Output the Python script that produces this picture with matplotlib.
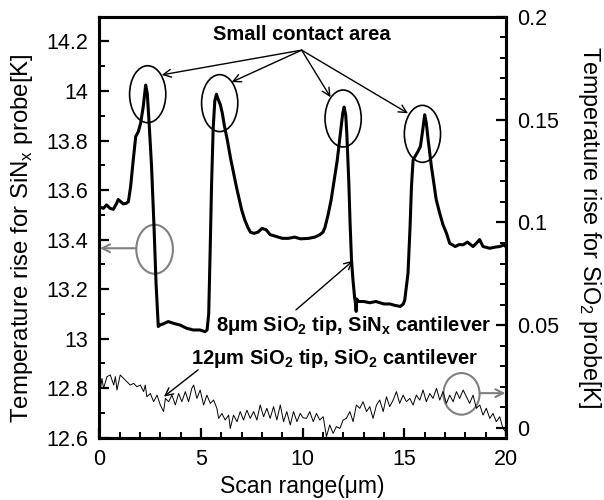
import numpy as np
import matplotlib
matplotlib.use('Agg')
from matplotlib import pyplot as plt
from matplotlib.patches import Ellipse
from matplotlib.ticker import MultipleLocator

plt.rcParams['font.family'] = 'Liberation Sans'
plt.rcParams['mathtext.fontset'] = 'custom'
plt.rcParams['mathtext.rm'] = 'Liberation Sans'
plt.rcParams['mathtext.bf'] = 'Liberation Sans:bold'

### SiNx probe (left axis) ###
sinx_x = np.array([0.00, 0.20, 0.36, 0.53, 0.69, 0.85, 0.93, 1.05, 1.18, 1.31, 1.43, 1.54, 1.67, 1.79,
                   1.92, 2.03, 2.16, 2.28, 2.36, 2.46, 2.57, 2.69, 2.79, 2.90, 2.98, 3.15, 3.39, 3.64,
                   3.97, 4.29, 4.62, 4.95, 5.20, 5.30, 5.38, 5.45, 5.52, 5.60, 5.68, 5.76, 5.85, 5.95,
                   6.05, 6.15, 6.30, 6.45, 6.60, 6.75, 6.86, 7.00, 7.15, 7.30, 7.43, 7.60, 7.80, 8.00,
                   8.20, 8.40, 8.60, 8.80, 9.00, 9.30, 9.60, 9.90, 10.30, 10.60, 10.85, 11.00, 11.10,
                   11.25, 11.40, 11.55, 11.70, 11.80, 11.90, 11.97, 12.04, 12.12, 12.17, 12.22, 12.27,
                   12.33, 12.40, 12.47, 12.55, 12.60, 12.63, 12.66, 12.75, 13.00, 13.30, 13.60, 14.00,
                   14.30, 14.50, 14.80, 14.95, 15.02, 15.18, 15.28, 15.35, 15.43, 15.56, 15.67, 15.79,
                   15.90, 16.00, 16.08, 16.17, 16.33, 16.57, 16.74, 16.90, 17.07, 17.23, 17.50, 17.70,
                   17.89, 18.10, 18.38, 18.62, 18.70, 18.87, 19.20, 19.50, 19.69, 19.93, 20.00])
sinx_t = np.array([13.533, 13.526, 13.540, 13.526, 13.522, 13.546, 13.562, 13.553, 13.544, 13.546,
                   13.553, 13.614, 13.722, 13.816, 13.836, 13.869, 13.936, 14.024, 13.990, 13.855,
                   13.695, 13.453, 13.224, 13.049, 13.055, 13.060, 13.069, 13.062, 13.055, 13.042,
                   13.035, 13.035, 13.028, 13.035, 13.100, 13.350, 13.620, 13.850, 13.960, 13.987,
                   13.965, 13.945, 13.910, 13.860, 13.800, 13.730, 13.670, 13.610, 13.570, 13.520,
                   13.480, 13.450, 13.430, 13.425, 13.430, 13.445, 13.440, 13.420, 13.415, 13.410,
                   13.405, 13.405, 13.410, 13.403, 13.405, 13.410, 13.420, 13.430, 13.450, 13.500,
                   13.560, 13.640, 13.720, 13.790, 13.860, 13.910, 13.935, 13.900, 13.830, 13.730,
                   13.630, 13.470, 13.320, 13.240, 13.170, 13.140, 13.110, 13.160, 13.150, 13.150,
                   13.145, 13.150, 13.140, 13.140, 13.135, 13.130, 13.140, 13.156, 13.264, 13.450,
                   13.614, 13.722, 13.740, 13.756, 13.776, 13.840, 13.904, 13.870, 13.803, 13.695,
                   13.560, 13.506, 13.460, 13.426, 13.385, 13.372, 13.380, 13.379, 13.390, 13.372,
                   13.392, 13.400, 13.372, 13.365, 13.370, 13.372, 13.379, 13.370])

### SiO2 probe (right axis) ###
sio2_x = np.array([0.00, 0.05, 0.13, 0.21, 0.38, 0.54, 0.71, 0.79, 0.87, 1.03, 1.20, 1.36, 1.52, 1.69,
                   1.85, 2.02, 2.18, 2.26, 2.34, 2.51, 2.67, 2.84, 3.00, 3.16, 3.25, 3.41, 3.57, 3.74,
                   3.90, 4.06, 4.23, 4.39, 4.55, 4.64, 4.80, 4.96, 5.13, 5.29, 5.46, 5.62, 5.78, 5.87,
                   6.03, 6.19, 6.36, 6.44, 6.60, 6.77, 6.93, 7.09, 7.26, 7.42, 7.59, 7.75, 7.91, 8.08,
                   8.24, 8.40, 8.57, 8.73, 8.90, 9.06, 9.22, 9.39, 9.55, 9.72, 9.88, 10.02, 10.19,
                   10.35, 10.52, 10.68, 10.84, 11.01, 11.17, 11.33, 11.50, 11.66, 11.83, 11.99, 12.15,
                   12.32, 12.48, 12.64, 12.81, 12.97, 13.14, 13.30, 13.46, 13.63, 13.79, 13.96, 14.12,
                   14.28, 14.45, 14.61, 14.77, 14.94, 15.10, 15.27, 15.43, 15.59, 15.76, 15.92, 16.08,
                   16.25, 16.41, 16.58, 16.74, 16.90, 17.07, 17.23, 17.40, 17.56, 17.72, 17.89, 18.05,
                   18.21, 18.38, 18.54, 18.71, 18.87, 19.03, 19.20, 19.36, 19.52, 19.69, 19.85, 19.98])
sio2_t = np.array([0.0195, 0.0185, 0.0241, 0.0193, 0.0250, 0.0258, 0.0209, 0.0250, 0.0185, 0.0258,
                   0.0241, 0.0225, 0.0209, 0.0217, 0.0201, 0.0209, 0.0177, 0.0209, 0.0152, 0.0168,
                   0.0128, 0.0160, 0.0112, 0.0080, 0.0144, 0.0128, 0.0160, 0.0112, 0.0168, 0.0128,
                   0.0177, 0.0128, 0.0193, 0.0209, 0.0144, 0.0185, 0.0112, 0.0160, 0.0120, 0.0136,
                   0.0096, 0.0047, 0.0071, 0.0039, 0.0063, -0.0002, 0.0063, 0.0031, 0.0080, 0.0039,
                   0.0087, 0.0047, 0.0080, 0.0039, 0.0112, 0.0055, 0.0096, 0.0047, 0.0104, 0.0039,
                   0.0112, 0.0031, 0.0080, 0.0015, 0.0080, 0.0031, 0.0071, 0.0050, 0.0047, 0.0080,
                   0.0031, 0.0071, 0.0039, 0.0055, -0.0042, 0.0015, -0.0026, 0.0007, -0.0002, 0.0039,
                   0.0047, 0.0080, 0.0031, 0.0112, 0.0096, 0.0128, 0.0080, 0.0104, 0.0047, 0.0112,
                   0.0136, 0.0080, 0.0152, 0.0104, 0.0136, 0.0177, 0.0120, 0.0160, 0.0128, 0.0144,
                   0.0112, 0.0160, 0.0136, 0.0185, 0.0128, 0.0168, 0.0144, 0.0193, 0.0136, 0.0177,
                   0.0120, 0.0160, 0.0128, 0.0177, 0.0144, 0.0185, 0.0152, 0.0120, 0.0160, 0.0096,
                   0.0112, 0.0063, 0.0096, 0.0047, 0.0071, 0.0031, 0.0055, -0.0002, -0.0018])

left_ticks = [12.6, 12.8, 13.0, 13.2, 13.4, 13.6, 13.8, 14.0, 14.2]
left_labels = ['12.6', '12.8', '13', '13.2', '13.4', '13.6', '13.8', '14', '14.2']
right_ticks = [0, 0.05, 0.1, 0.15, 0.2]
right_labels = ['0', '0.05', '0.1', '0.15', '0.2']

# peaks marked with black circles: centre x, centre y
peak_circles = [(2.38, 13.987), (5.92, 13.951), (11.99, 13.889), (15.89, 13.827)]
# arrow targets from the "Small contact area" label
peak_arrow_tips = [(3.07, 14.065), (6.51, 14.036), (11.37, 13.975), (15.18, 13.91)]

mu = '\u03bc'

fig = plt.figure(figsize=(6.04, 5.0), dpi=100)
ax1 = fig.add_axes([0.1644, 0.1246, 0.6734, 0.842])
ax2 = ax1.twinx()

ax1.plot(sinx_x, sinx_t, color='black', lw=2.2)
ax2.plot(sio2_x, sio2_t, color='black', lw=0.7)

ax1.set_xlim(0, 20)
ax1.set_ylim(12.6, 14.3)
ax2.set_ylim(-0.0047, 0.2)

ax1.set_xticks([0, 5, 10, 15, 20])
ax1.xaxis.set_minor_locator(MultipleLocator(1))
ax1.set_yticks(left_ticks)
ax1.set_yticklabels(left_labels)
ax1.yaxis.set_minor_locator(MultipleLocator(0.1))
ax2.set_yticks(right_ticks)
ax2.set_yticklabels(right_labels)
ax2.yaxis.set_minor_locator(MultipleLocator(0.01))

for ax in (ax1, ax2):
    ax.tick_params(which='major', direction='in', length=7, width=1.6, labelsize=15.5, pad=8)
    ax.tick_params(which='minor', direction='in', length=4, width=1.4)
    for sp in ax.spines.values():
        sp.set_linewidth(2.2)

fig.text(302.7 / 604, 1 - 486 / 500, 'Scan range(' + mu + 'm)', ha='center', va='center', fontsize=16.5)
fig.text(21.7 / 604, 1 - 238 / 500, r'Temperature rise for SiN$_\mathregular{x}$ probe[K]',
         rotation=90, ha='center', va='center', fontsize=17.3)
fig.text(590 / 604, 1 - 227 / 500, r'Temperature rise for SiO$_\mathregular{2}$ probe[K]',
         rotation=270, ha='center', va='center', fontsize=16.8)

# annotations
ax1.text(9.95, 14.227, 'Small contact area', ha='center', va='center', fontsize=14.5, fontweight='bold')
for tip in peak_arrow_tips:
    ax1.annotate('', xy=tip, xytext=(9.95, 14.165),
                 arrowprops=dict(arrowstyle='->', color='black', lw=1.0, shrinkA=0, shrinkB=0,
                                 mutation_scale=14))
for cx, cy in peak_circles:
    ax1.add_patch(Ellipse((cx, cy), 1.78, 0.23, fill=False, ec='black', lw=1.2))

ax1.text(12.51, 13.055, '8' + mu + r'm SiO$_\mathbf{2}$ tip, SiN$_\mathbf{x}$ cantilever',
         ha='center', va='center', fontsize=14.5, fontweight='bold')
ax1.annotate('', xy=(12.48, 13.315), xytext=(9.67, 13.116),
             arrowprops=dict(arrowstyle='->', color='black', lw=1.0, shrinkA=0, shrinkB=0, mutation_scale=14))
ax1.text(11.58, 12.921, '12' + mu + r'm SiO$_\mathbf{2}$ tip, SiO$_\mathbf{2}$ cantilever',
         ha='center', va='center', fontsize=14.5, fontweight='bold')
ax1.annotate('', xy=(3.18, 12.766), xytext=(4.86, 12.874),
             arrowprops=dict(arrowstyle='->', color='black', lw=1.0, shrinkA=0, shrinkB=0, mutation_scale=14))

# gray markers pointing to the axis each curve belongs to
ax1.add_patch(Ellipse((2.72, 13.361), 1.80, 0.198, fill=False, ec='#808080', lw=1.5))
ax1.annotate('', xy=(0.03, 13.365), xytext=(1.82, 13.365),
             arrowprops=dict(arrowstyle='->', color='#808080', lw=1.5, shrinkA=0, shrinkB=0, mutation_scale=14))
ax1.add_patch(Ellipse((17.81, 12.777), 1.78, 0.168, fill=False, ec='#808080', lw=1.5))
ax1.annotate('', xy=(19.97, 12.78), xytext=(18.70, 12.78),
             arrowprops=dict(arrowstyle='->', color='#808080', lw=1.5, shrinkA=0, shrinkB=0, mutation_scale=14))

fig.savefig('out.png', dpi=100)
